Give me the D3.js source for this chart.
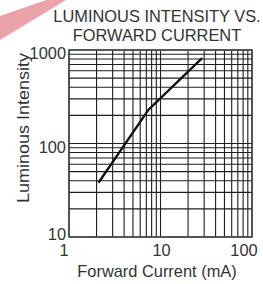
<!DOCTYPE html>
<html>
<head>
<meta charset="utf-8">
<script src="https://cdn.jsdelivr.net/npm/d3@7"></script>
<style>
  body { margin: 0; background: #fff; }
  text { font-family: "Liberation Sans", Arial, sans-serif; fill: #333; }
</style>
</head>
<body>
<svg id="chart" width="263" height="284"></svg>
<script>
// values
const current = [2.1, 7.4, 28.5];      // mA
const intensity = [38, 230, 820];
const xTicks = [1, 10, 100];
const yTicks = [10, 100, 1000];
const titleLines = ['LUMINOUS INTENSITY VS.', 'FORWARD CURRENT'];

const width = 263, height = 284;
const margin = { left: 69, top: 50, right: 11, bottom: 47 };
const fs = 16.4;

const svg = d3.select('#chart');

// pink watermark stroke in the corner
svg.append('polygon')
  .attr('points', '0,16 46,0 66,0 0,40')
  .attr('fill', '#eba3aa');

const x = d3.scaleLog().domain([1, 100]).range([margin.left, width - margin.right]);
const y = d3.scaleLog().domain([10, 1000]).range([height - margin.bottom, margin.top]);

// minor grid 1..9 per decade
const xGrid = d3.range(1, 101).filter(v => v <= 10 ? true : v % 10 == 0);
const yGrid = d3.range(10, 1001).filter(v => v <= 100 ? v % 10 == 0 : v % 100 == 0);

const grid = svg.append('g').attr('stroke', '#1e1e1e').attr('stroke-width', 1.1);

grid.selectAll('line.v')
  .data(xGrid)
  .enter()
  .append('line')
  .attr('x1', d => x(d)).attr('x2', d => x(d))
  .attr('y1', y(1000)).attr('y2', y(10));

grid.selectAll('line.h')
  .data(yGrid)
  .enter()
  .append('line')
  .attr('y1', d => y(d)).attr('y2', d => y(d))
  .attr('x1', x(1)).attr('x2', x(100));

svg.append('rect')
  .attr('x', x(1)).attr('y', y(1000))
  .attr('width', x(100) - x(1)).attr('height', y(10) - y(1000))
  .attr('fill', 'none').attr('stroke', '#444').attr('stroke-width', 1.5);

// data line
const line = d3.line()
  .x((d, i) => x(current[i]))
  .y(d => y(d));

svg.append('path')
  .datum(intensity)
  .attr('d', line)
  .attr('fill', 'none')
  .attr('stroke', '#111')
  .attr('stroke-width', 2.4);

// tick labels
svg.selectAll('text.ytick')
  .data(yTicks)
  .enter()
  .append('text')
  .attr('x', margin.left - 3)
  .attr('y', d => y(d) + (d == 10 ? 3 : 9))
  .attr('text-anchor', 'end')
  .attr('font-size', fs)
  .text(d => d);

const xShift = { 1: -5, 10: 1, 100: -8 };
svg.selectAll('text.xtick')
  .data(xTicks)
  .enter()
  .append('text')
  .attr('x', d => x(d) + xShift[d])
  .attr('y', 256)
  .attr('text-anchor', 'middle')
  .attr('font-size', fs)
  .text(d => d);

// titles
svg.selectAll('text.title')
  .data(titleLines)
  .enter()
  .append('text')
  .attr('x', 157)
  .attr('y', (d, i) => 22 + i * 19)
  .attr('text-anchor', 'middle')
  .attr('font-size', fs)
  .text(d => d);

svg.append('text')
  .attr('x', 157)
  .attr('y', 277)
  .attr('text-anchor', 'middle')
  .attr('font-size', fs)
  .text('Forward Current (mA)');

svg.append('text')
  .attr('transform', 'translate(29,128) rotate(-90)')
  .attr('text-anchor', 'middle')
  .attr('font-size', fs)
  .attr('textLength', 150)
  .attr('lengthAdjust', 'spacingAndGlyphs')
  .text('Luminous Intensity');
</script>
</body>
</html>
